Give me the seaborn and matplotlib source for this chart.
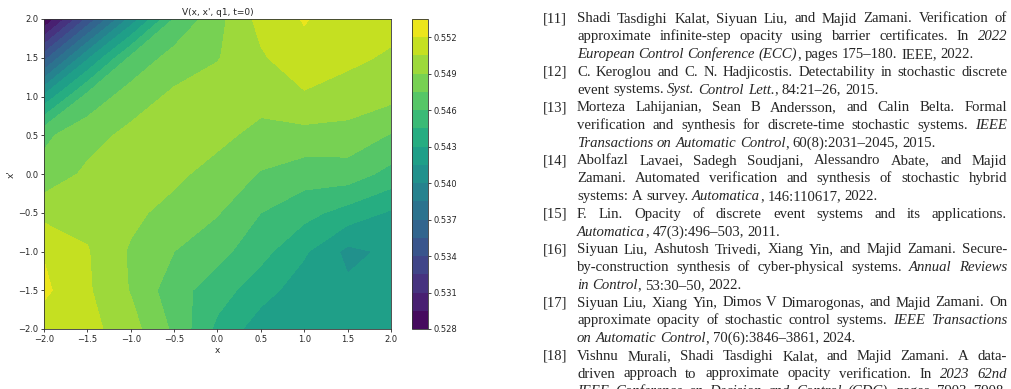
import numpy as np
import matplotlib
matplotlib.use('Agg')
import matplotlib.pyplot as plt
import seaborn as sns

# V(x, x', q1, t=0) on a 0.5 grid (rows: x' from 2.0 down to -2.0)
x_vals = [-2.0, -1.5, -1.0, -0.5, 0.0, 0.5, 1.0, 1.5, 2.0]
y_vals = [2.0, 1.5, 1.0, 0.5, 0.0, -0.5, -1.0, -1.5, -2.0]
v_y2p0  = [0.5280, 0.5343, 0.5405, 0.5461, 0.5485, 0.5510, 0.5521, 0.5512, 0.5510]
v_y1p5  = [0.5349, 0.5412, 0.5463, 0.5481, 0.5489, 0.5503, 0.5515, 0.5508, 0.5503]
v_y1p0  = [0.5418, 0.5465, 0.5482, 0.5493, 0.5498, 0.5497, 0.5503, 0.5499, 0.5494]
v_y0p5  = [0.5472, 0.5484, 0.5494, 0.5498, 0.5495, 0.5484, 0.5485, 0.5484, 0.5474]
v_y0p0  = [0.5480, 0.5493, 0.5500, 0.5494, 0.5483, 0.5474, 0.5467, 0.5468, 0.5455]
v_ym0p5 = [0.5500, 0.5500, 0.5494, 0.5484, 0.5476, 0.5460, 0.5450, 0.5439, 0.5428]
v_ym1p0 = [0.5519, 0.5506, 0.5488, 0.5475, 0.5465, 0.5450, 0.5432, 0.5411, 0.5418]
v_ym1p5 = [0.5523, 0.5507, 0.5489, 0.5466, 0.5452, 0.5436, 0.5422, 0.5418, 0.5420]
v_ym2p0 = [0.5512, 0.5510, 0.5496, 0.5472, 0.5441, 0.5422, 0.5420, 0.5420, 0.5423]

levels     = np.linspace(0.528, 0.5535, 18)
cbar_ticks = [0.528, 0.531, 0.534, 0.537, 0.540, 0.543, 0.546, 0.549, 0.552]

# reference list shown to the right of the plot (*...* = italic)
refs = [
    ('[11]', ["Shadi Tasdighi Kalat, Siyuan Liu, and Majid Zamani. Verification of",
              "approximate infinite-step opacity using barrier certificates. In *2022*",
              "*European Control Conference (ECC)*, pages 175\u2013180. IEEE, 2022."], True),
    ('[12]', ["C. Keroglou and C. N. Hadjicostis. Detectability in stochastic discrete",
              "event systems. *Syst. Control Lett.*, 84:21\u201326, 2015."], True),
    ('[13]', ["Morteza Lahijanian, Sean B Andersson, and Calin Belta. Formal",
              "verification and synthesis for discrete-time stochastic systems. *IEEE*",
              "*Transactions on Automatic Control*, 60(8):2031\u20132045, 2015."], True),
    ('[14]', ["Abolfazl Lavaei, Sadegh Soudjani, Alessandro Abate, and Majid",
              "Zamani. Automated verification and synthesis of stochastic hybrid",
              "systems: A survey. *Automatica*, 146:110617, 2022."], True),
    ('[15]', ["F. Lin. Opacity of discrete event systems and its applications.",
              "*Automatica*, 47(3):496\u2013503, 2011."], True),
    ('[16]', ["Siyuan Liu, Ashutosh Trivedi, Xiang Yin, and Majid Zamani. Secure-",
              "by-construction synthesis of cyber-physical systems. *Annual Reviews*",
              "*in Control*, 53:30\u201350, 2022."], True),
    ('[17]', ["Siyuan Liu, Xiang Yin, Dimos V Dimarogonas, and Majid Zamani. On",
              "approximate opacity of stochastic control systems. *IEEE Transactions*",
              "*on Automatic Control*, 70(6):3846\u20133861, 2024."], True),
    ('[18]', ["Vishnu Murali, Shadi Tasdighi Kalat, and Majid Zamani. A data-",
              "driven approach to approximate opacity verification. In *2023 62nd*",
              "*IEEE Conference on Decision and Control (CDC)*, pages 7903\u20137908."], False),
]

W, H = 1012, 389
SERIF = 'Liberation Serif'
FS_REF = 10.6

sns.set_style('ticks')
plt.rcParams['font.family'] = ['DejaVu Sans']
cmap = sns.color_palette('viridis', as_cmap=True)

fig = plt.figure(figsize=(W / 100, H / 100), dpi=100)
ax  = fig.add_axes([44 / W, 1 - 329 / H, 347 / W, 310 / H])
cax = fig.add_axes([412 / W, 1 - 329 / H, 16 / W, 310 / H])

Z = np.array([v_y2p0, v_y1p5, v_y1p0, v_y0p5, v_y0p0,
              v_ym0p5, v_ym1p0, v_ym1p5, v_ym2p0])
cs = ax.contourf(x_vals, y_vals, Z, levels=levels, cmap=cmap)
ax.set_xlim(-2, 2); ax.set_ylim(-2, 2)
ax.set_xticks(np.arange(-2, 2.01, 0.5)); ax.set_yticks(np.arange(-2, 2.01, 0.5))
ax.set_title("V(x, x', q1, t=0)", fontsize=6.5, pad=3)
ax.set_xlabel('x', fontsize=6.5, labelpad=2)
ax.set_ylabel("x'", fontsize=6.5, labelpad=2)
ax.tick_params(labelsize=6, length=2.5, width=0.6, pad=1.5)
for s in ax.spines.values():
    s.set_linewidth(0.6); s.set_color('#333333')

cb = fig.colorbar(cs, cax=cax, ticks=cbar_ticks, format='%.3f')
cb.ax.tick_params(labelsize=6, length=2.5, width=0.6, pad=1.5)
cb.outline.set_linewidth(0.6); cb.outline.set_edgecolor('#333333')

# justified reference text
renderer = fig.canvas.get_renderer()

def width(s, italic):
    t = fig.text(0, 0, s, fontsize=FS_REF, family=SERIF,
                 style='italic' if italic else 'normal')
    w = t.get_window_extent(renderer).width
    t.remove()
    return w

def parse(line):
    words, ital = [], False
    for w in line.split(' '):
        pieces = []
        parts = w.split('*')
        for k, p in enumerate(parts):
            if k > 0:
                ital = not ital
            if p:
                pieces.append((p, ital))
        words.append(pieces)
    return words

space_w = width('a a', False) - width('aa', False)
label_x, left, right = 543, 577, 1007
line_no = 0
for label, lines, ends in refs:
    fig.text(label_x / W, 1 - (22.5 + 17.75 * line_no) / H, label,
             fontsize=FS_REF, family=SERIF, va='baseline')
    for j, line in enumerate(lines):
        base = 22.5 + 17.75 * line_no
        words = parse(line)
        wws = [[width(p, it) for p, it in wd] for wd in words]
        total = sum(sum(w) for w in wws)
        last = ends and j == len(lines) - 1
        gap = space_w if last else (right - left - total) / (len(words) - 1)
        x = left
        for wd, ww in zip(words, wws):
            for (p, it), pw in zip(wd, ww):
                fig.text(x / W, 1 - base / H, p, fontsize=FS_REF, family=SERIF,
                         style='italic' if it else 'normal', va='baseline')
                x += pw
            x += gap
        line_no += 1

fig.savefig('out.png', dpi=100)
